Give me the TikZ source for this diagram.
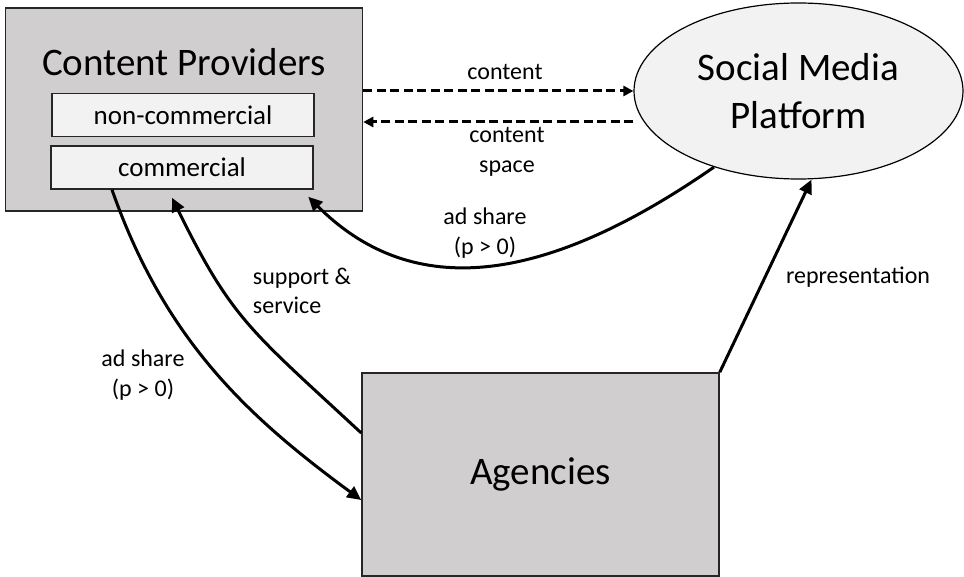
\documentclass[tikz,border=0pt]{standalone}
\usepackage{fontspec}
\setmainfont{Carlito}
\usetikzlibrary{arrows.meta,shapes.geometric}
\definecolor{boxgray}{RGB}{208,206,206}
\definecolor{lightfill}{RGB}{242,242,242}
\tikzset{
	bigbox/.style={draw=black!85, line width=1.5pt, fill=boxgray, inner sep=0pt, minimum width=357pt, minimum height=203pt},
	subbox/.style={draw=black!85, line width=1.5pt, fill=lightfill, inner sep=0pt, minimum width=262pt, minimum height=43pt, font=\fontsize{27}{32}\selectfont},
	bigtext/.style={font=\fontsize{39}{48}\selectfont},
	lbl/.style={align=center, font=\fontsize{24}{29.5}\selectfont},
	flow/.style={line width=3pt, -{Triangle[length=14pt,width=13pt]}},
	dashflow/.style={line width=3pt, dash pattern=on 9pt off 4.5pt, -{Triangle[length=10pt,width=10pt]}}
}

\begin{document}
\begin{tikzpicture}[x=1pt, y=-1pt]
		%%%%% START %%%%%
		\useasboundingbox (0, 0) rectangle (964, 577);
		
		\node[bigbox] (provider) at (184, 109.5) {};
		\node[bigtext] (providertitle) at (184, 62) {Content Providers};
		\node[subbox] (noncom) at (183, 115) {non-commercial};
		\node[subbox] (com) at (182, 167.5) {commercial};
		
		\node[ellipse, draw=black, line width=1.2pt, fill=lightfill, minimum width=329pt, minimum height=176pt, inner sep=0pt, align=center, bigtext] (platform) at (798.5, 91) {Social Media\\Platform};
		
		\node[bigbox, bigtext] (agencies) at (540.5, 474.5) {Agencies};
		
		\coordinate (spacestart) at ([yshift=-31pt]platform.west);
		\draw[dashflow] (provider.east |- platform.west) -- (platform.west);
		\draw[dashflow] (spacestart) -- (spacestart -| provider.east);
		
		\node[lbl] (contentlbl) at (505, 72) {content};
		\node[lbl] (spacelbl) at (507, 152) {content\\space};
		
		\draw[flow] (platform.222.5) .. controls +(-180, 125) and +(99, 99) .. ([xshift=-55pt, yshift=15pt]provider.south east);
		\node[lbl] (sharetoplbl) at (485, 233) {ad share\\(p > 0)};
		
		\draw[flow] ([yshift=41.5pt]agencies.west) .. controls +(-111, -103) and +(60, 122) .. ([xshift=-10pt, yshift=-8pt]com.south);
		\node[lbl, align=left] (supportlbl) at (302, 291) {support \&\\service};
		
		\draw[flow] ([xshift=-70pt]com.south) .. controls +(53, 151) and +(-113, -83) .. ([yshift=-25.5pt]agencies.west);
		\node[lbl] (sharelowlbl) at (143, 375) {ad share\\(p > 0)};
		
		\draw[flow] (agencies.north east) -- ([xshift=13pt]platform.south);
		\node[lbl] (reprlbl) at (858, 277) {representation};
		
		%%%%% END %%%%%
\end{tikzpicture}
\end{document}
